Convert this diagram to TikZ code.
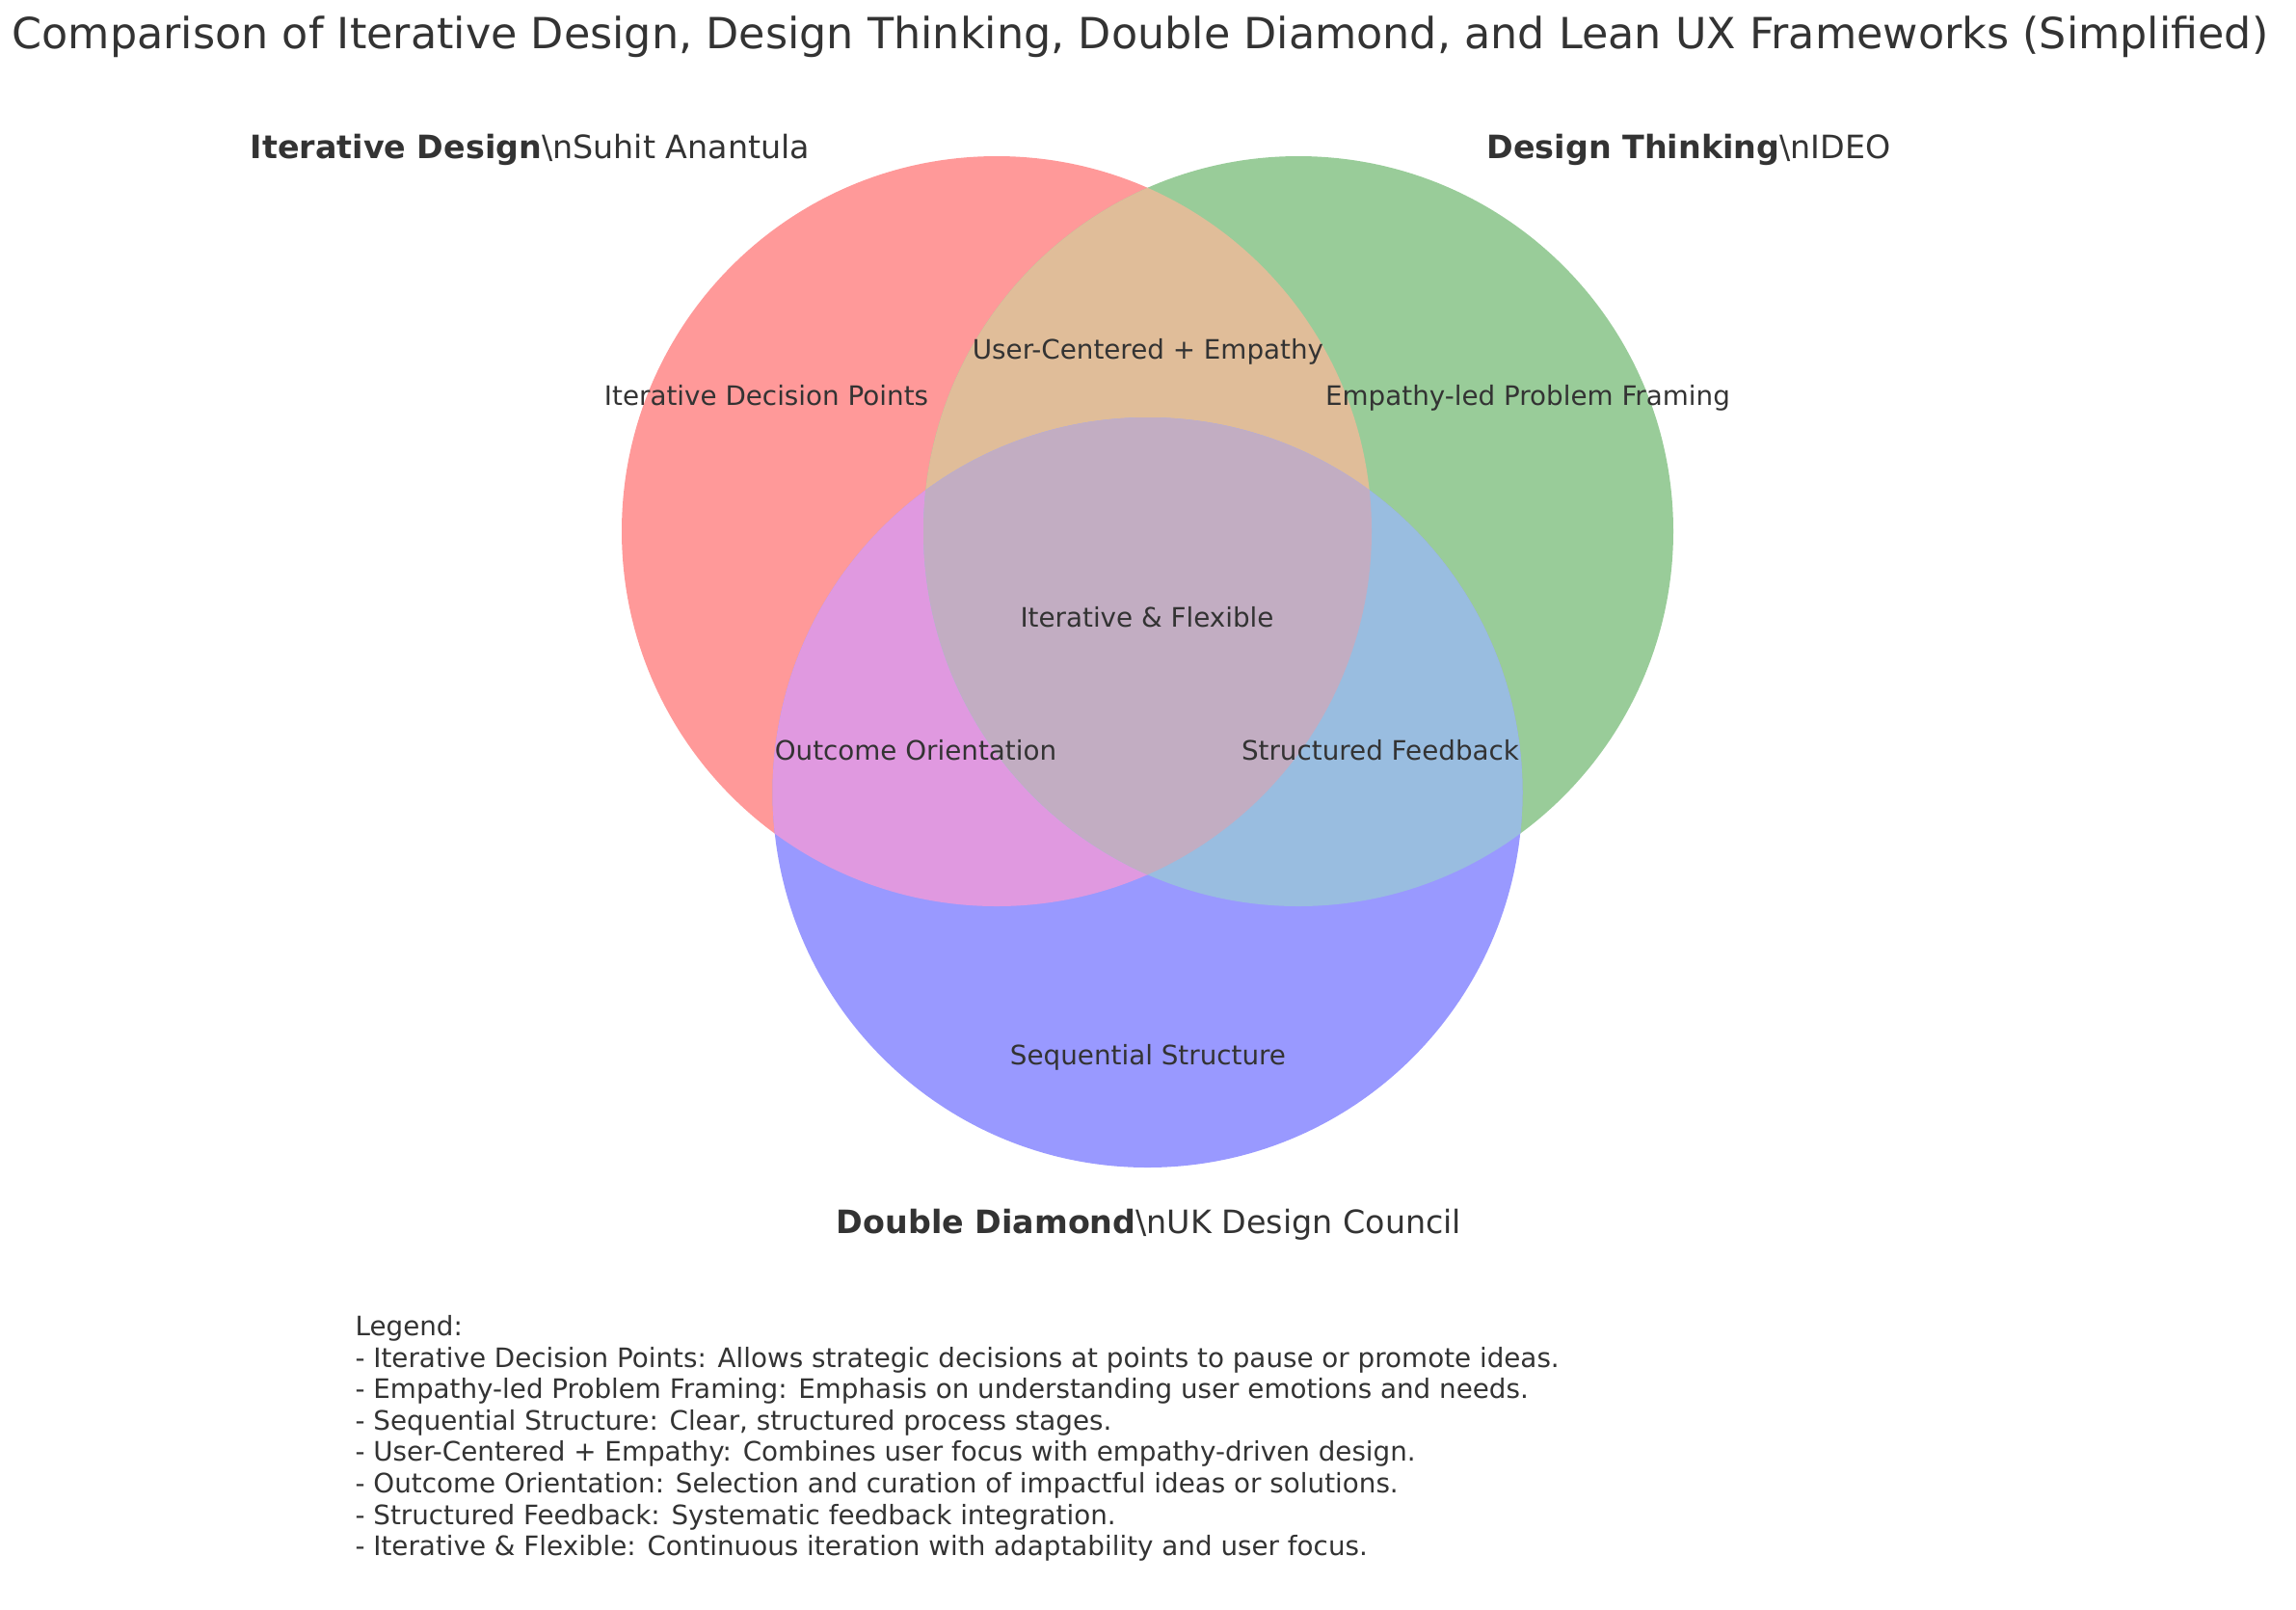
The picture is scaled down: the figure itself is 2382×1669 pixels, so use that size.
\documentclass[tikz,border=0pt]{standalone}
\usepackage{fontspec}
\setmainfont{DejaVu Sans}
\definecolor{txt}{HTML}{333333}
\definecolor{cR}{HTML}{FF9999}
\definecolor{cG}{HTML}{99CC99}
\definecolor{cB}{HTML}{9999FF}
\definecolor{cRG}{HTML}{E0BD99}
\definecolor{cRB}{HTML}{E099E0}
\definecolor{cGB}{HTML}{99BDE0}
\definecolor{cRGB}{HTML}{C2ADC2}
\tikzset{
  lbl/.style={text=txt, inner sep=0pt, font=\fontsize{10}{12}\selectfont, anchor=base},
  setlbl/.style={text=txt, inner sep=0pt, font=\fontsize{12}{14.4}\selectfont, anchor=base},
}
\begin{document}
\begin{tikzpicture}[x=0.36pt, y=-0.36pt]
\useasboundingbox (0,0) rectangle (2382,1669);
\def\rad{140.04pt}
\coordinate (cA) at (1034,551);
\coordinate (cD) at (1347,551);
\coordinate (cC) at (1190.5,822);
% base circles
\fill[cR] (cA) circle[radius=\rad];
\fill[cG] (cD) circle[radius=\rad];
\fill[cB] (cC) circle[radius=\rad];
% pairwise overlaps
\begin{scope}
  \clip (cA) circle[radius=\rad];
  \fill[cRG] (cD) circle[radius=\rad];
  \fill[cRB] (cC) circle[radius=\rad];
\end{scope}
\begin{scope}
  \clip (cD) circle[radius=\rad];
  \fill[cGB] (cC) circle[radius=\rad];
\end{scope}
\begin{scope}
  \clip (cA) circle[radius=\rad];
  \clip (cD) circle[radius=\rad];
  \fill[cRGB] (cC) circle[radius=\rad];
\end{scope}
% title
\node[text=txt, inner sep=0pt, anchor=base, font=\fontsize{16}{19}\selectfont] (title) at (1183,50)
  {Comparison of Iterative Design, Design Thinking, Double Diamond, and Lean UX Frameworks (Simplified)};
% set labels
\node[setlbl] (labA) at (550,164) {\textbf{Iterative Design}\textbackslash nSuhit Anantula};
\node[setlbl] (labD) at (1752,164) {\textbf{Design Thinking}\textbackslash nIDEO};
\node[setlbl] (labC) at (1192,1279) {\textbf{Double Diamond}\textbackslash nUK Design Council};
% region labels
\node[lbl] (rA) at (795,420) {Iterative Decision Points};
\node[lbl] (rAD) at (1191,372) {User-Centered + Empathy};
\node[lbl] (rD) at (1585,420) {Empathy-led Problem Framing};
\node[lbl] (rADC) at (1190,650) {Iterative \& Flexible};
\node[lbl] (rAC) at (950,788) {Outcome Orientation};
\node[lbl] (rDC) at (1432,788) {Structured Feedback};
\node[lbl] (rC) at (1191,1104) {Sequential Structure};
% legend
\node[text=txt, inner sep=0pt, anchor=north west, align=left, font=\fontsize{10}{11.72}\selectfont] (legend) at (368,1364)
{Legend:\\
- Iterative Decision Points: Allows strategic decisions at points to pause or promote ideas.\\
- Empathy-led Problem Framing: Emphasis on understanding user emotions and needs.\\
- Sequential Structure: Clear, structured process stages.\\
- User-Centered + Empathy: Combines user focus with empathy-driven design.\\
- Outcome Orientation: Selection and curation of impactful ideas or solutions.\\
- Structured Feedback: Systematic feedback integration.\\
- Iterative \& Flexible: Continuous iteration with adaptability and user focus.};
\end{tikzpicture}
\end{document}
